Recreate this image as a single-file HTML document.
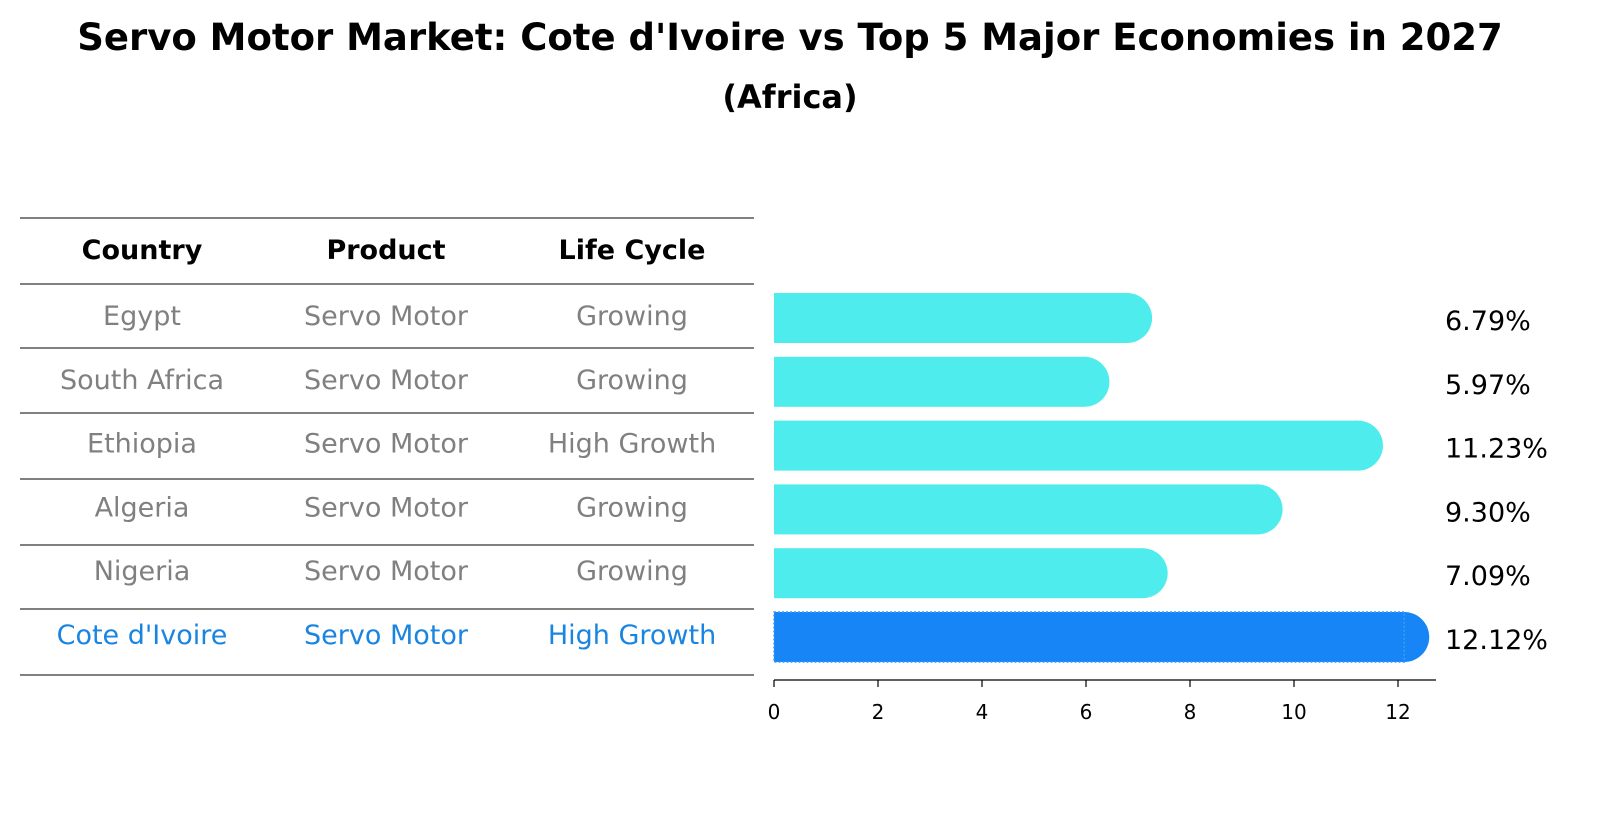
<!DOCTYPE html>
<html><head><meta charset="utf-8"><style>
body{margin:0;background:#fff;font-family:"Liberation Sans","DejaVu Sans",sans-serif;}
svg text{font-family:"DejaVu Sans","Liberation Sans",sans-serif;}
</style></head><body>
<svg id="chart" width="1604" height="823" xmlns="http://www.w3.org/2000/svg">
<text x="790" y="50" text-anchor="middle" font-size="37" font-weight="bold">Servo Motor Market: Cote d'Ivoire vs Top 5 Major Economies in 2027</text>
<text x="790" y="108" text-anchor="middle" font-size="32" font-weight="bold">(Africa)</text>
<g id="table"></g>
<g id="bars"></g>
<g id="axis"></g>
</svg>
<script>
const countries=["Egypt","South Africa","Ethiopia","Algeria","Nigeria","Cote d'Ivoire"];
const products=["Servo Motor","Servo Motor","Servo Motor","Servo Motor","Servo Motor","Servo Motor"];
const lifecycles=["Growing","Growing","High Growth","Growing","Growing","High Growth"];
const values=[6.79,5.97,11.23,9.30,7.09,12.12];
const ticks=[0,2,4,6,8,10,12];
const NS="http://www.w3.org/2000/svg";
function mk(t,a,p){const e=document.createElementNS(NS,t);for(const k in a)e.setAttribute(k,a[k]);p.appendChild(e);return e;}
const x0=774,ppu=52;
const xs=v=>x0+v*ppu;
const rowY=i=>318+i*63.8;
const tbl=document.getElementById('table');
const lines=[218,284,348,413,479,545,609,675];
lines.forEach((y,i)=>{const l=mk('line',{x1:20,x2:754,y1:y,y2:y,stroke:'#000','stroke-width':1},tbl);

});
const cx=[142,386,632];
["Country","Product","Life Cycle"].forEach((h,j)=>{const t=mk('text',{x:cx[j],y:259,'text-anchor':'middle','font-size':27,'font-weight':'bold'},tbl);t.textContent=h;

});
countries.forEach((c,i)=>{const hl=i===countries.length-1;const col=hl?'#1a85e0':'#808080';
[c,products[i],lifecycles[i]].forEach((s,j)=>{const t=mk('text',{x:cx[j],y:rowY(i)+7,'text-anchor':'middle','font-size':27,fill:col},tbl);t.textContent=s;

});});
const bars=document.getElementById('bars');
values.forEach((v,i)=>{const hl=i===values.length-1;const y=rowY(i);
const g=mk('g',{},bars);


mk('rect',{x:x0,y:y-25,width:Math.max(0,xs(v)-x0),height:50,fill:hl?'#1785f5':'#4eecec'},g);
mk('circle',{cx:xs(v),cy:y,r:25,fill:hl?'#1785f5':'#4eecec'},g);
if(hl){mk('rect',{x:x0,y:y-25,width:xs(v)-x0,height:50,fill:'none',stroke:'#3a9cff','stroke-width':1.5,'stroke-dasharray':'2,2'},g);}
const t=mk('text',{x:1445,y:y+12,'font-size':27},bars);t.textContent=v.toFixed(2)+'%';

});
const ax=document.getElementById('axis');
mk('line',{x1:x0,x2:1436,y1:680,y2:680,stroke:'#000','stroke-width':1.2},ax);
ticks.forEach(v=>{mk('line',{x1:xs(v),x2:xs(v),y1:680,y2:687,stroke:'#000','stroke-width':1.2},ax);
const t=mk('text',{x:xs(v),y:719,'text-anchor':'middle','font-size':20},ax);t.textContent=v;

});
</script>
</body></html>
